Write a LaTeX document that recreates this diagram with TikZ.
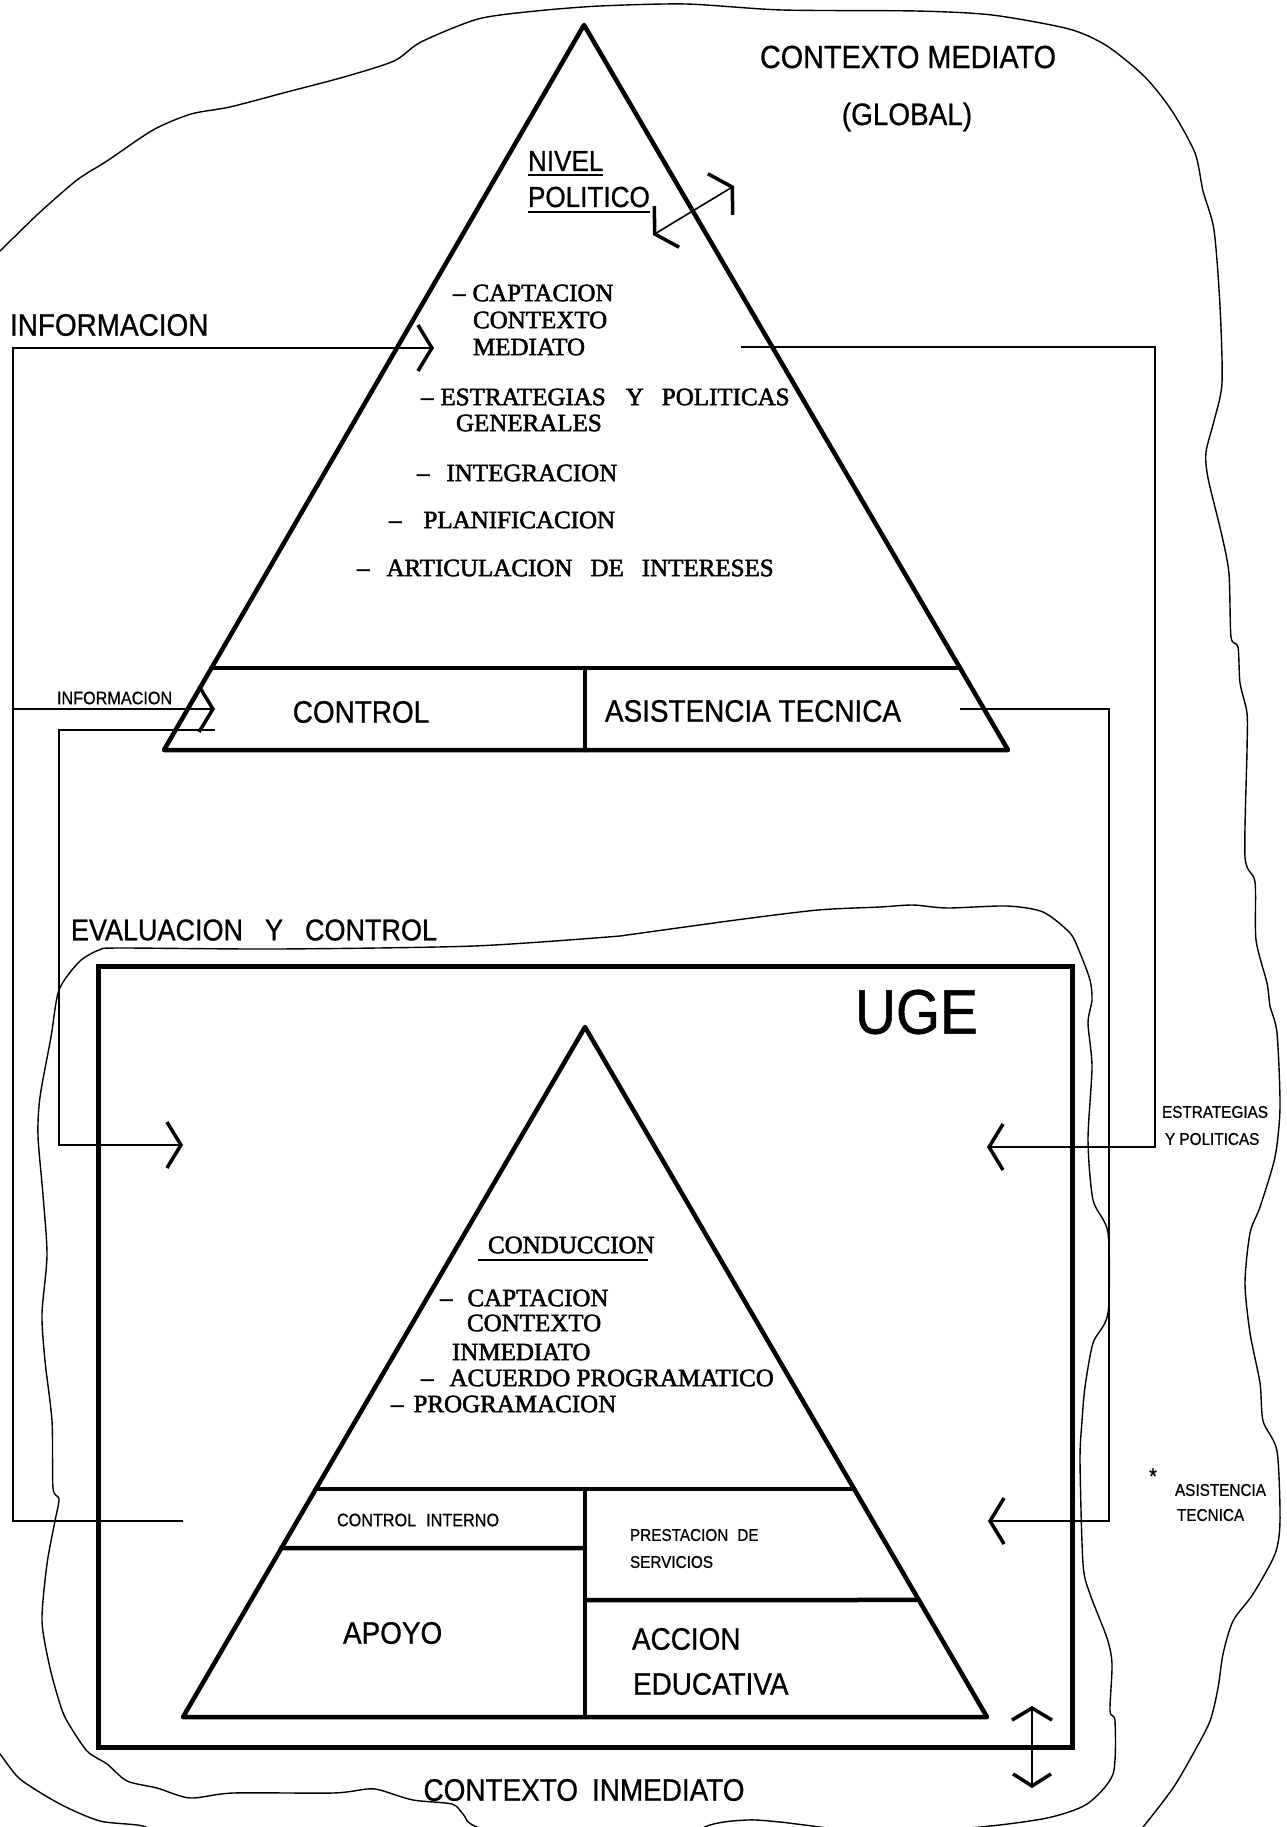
\documentclass[tikz,border=0pt]{standalone}
\usepackage{fontspec}
\usetikzlibrary{arrows.meta,calc}
\newfontfamily\cadfont[FakeStretch=0.9,FakeBold=0.8]{Liberation Sans}
\newfontfamily\serfont[FakeBold=2]{Liberation Serif}
\newcommand\fsz[1]{\fontsize{#1}{#1}\selectfont}
\tikzset{
  heavy/.style={line width=4.5pt, line join=round, line cap=round},
  conn/.style={line width=1.6pt},
  cloudline/.style={line width=1.4pt, line join=round},
  chev/.style={-{Straight Barb[length=14pt, width=46pt, line width=3.5pt]}},
  sans/.style={inner sep=0pt, outer sep=0pt, font=\cadfont\fsz{#1}},
  sans/.default=31,
  serif/.style={inner sep=0pt, outer sep=0pt, font=\serfont\fsz{25}},
  uline/.style={line width=2pt}
}
\begin{document}
\begin{tikzpicture}[x=1pt,y=-1pt]
\useasboundingbox (0,0) rectangle (1286,1827);
\fill[white] (0,0) rectangle (1286,1827);

% ---------- clouds ----------
\begin{scope}
\clip (0,0) rectangle (1286,1827);
\draw[cloudline] plot[smooth, tension=0.45] coordinates {
 (-8,258) (0,251) (38,214) (77,180) (107,161) (153,130) (191,114) (230,107)
 (287,92) (344,77) (394,61) (421,42) (478,19) (536,11) (600,6) (686,4)
 (782,10) (916,11) (992,15) (1069,29) (1107,46) (1145,77) (1172,111)
 (1195,153) (1203,191) (1214,230) (1220,306) (1222,383) (1214,421)
 (1206,452) (1208,478) (1222,536) (1229,574) (1231,637) (1238,647)
 (1240,683) (1247,713) (1247,750) (1245,857) (1255,882) (1256,940)
 (1267,983) (1270,1006) (1277,1033) (1280,1107) (1275,1157) (1260,1207)
 (1250,1233) (1245,1283) (1250,1333) (1260,1383) (1263,1421) (1277,1451)
 (1280,1521) (1275,1554) (1253,1594) (1233,1621) (1223,1654) (1218,1688)
 (1210,1721) (1193,1754) (1173,1788) (1143,1827) (1125,1845)};
\draw[cloudline] plot[smooth, tension=0.45] coordinates {
 (-10,1745) (0,1754) (20,1779) (60,1804) (100,1821) (143,1826) (170,1840)};
\draw[cloudline] plot[smooth, tension=0.45] coordinates {
 (620,936) (736,920) (818,910) (880,907) (913,905) (947,908) (1007,906)
 (1043,912) (1070,933) (1080,953) (1090,980) (1092,1000) (1088,1023)
 (1092,1067) (1088,1140) (1093,1200) (1108,1233) (1108,1313) (1093,1343)
 (1085,1387) (1082,1421) (1080,1461) (1083,1564) (1090,1594) (1107,1638)
 (1112,1664) (1110,1711) (1115,1721) (1113,1774) (1087,1804) (1047,1818)
 (980,1827) (880,1833) (780,1822) (747,1820) (710,1825) (650,1850)
 (560,1850) (477,1827) (463,1814) (452,1804) (413,1800) (380,1790)
 (367,1789) (333,1793) (233,1793) (190,1798) (157,1788) (127,1781)
 (107,1764) (87,1751) (67,1721) (60,1704) (50,1668) (42,1621) (47,1564)
 (55,1521) (59,1499) (53,1488) (52,1421) (45,1361) (42,1314) (47,1255)
 (43,1195) (38,1136) (40,1097) (51,1037) (59,990) (79,962) (99,950)
 (119,948) (277,949) (474,946) (620,936)};
\end{scope}

% ---------- upper pyramid ----------
\coordinate (tA) at (584,25);
\coordinate (tL) at (164,750);
\coordinate (tR) at (1008,750);
\draw[heavy] (tA) -- (tL) -- (tR) -- cycle;
\draw[heavy] ($(tA)!0.8869!(tL)$) -- ($(tA)!0.8869!(tR)$);
\draw[heavy] (585,668) -- (585,750);

% ---------- UGE box and lower pyramid ----------
\draw[line width=5pt] (98,966) rectangle (1072,1747);
\coordinate (bA) at (585,1027);
\coordinate (bL) at (183,1717);
\coordinate (bR) at (987,1717);
\draw[heavy] (bA) -- (bL) -- (bR) -- cycle;
\draw[heavy] ($(bA)!0.6696!(bL)$) -- ($(bA)!0.6696!(bR)$);
\draw[heavy] ($(bA)!0.7551!(bL)$) -- (585,1548);
\draw[heavy] (585,1600) -- ($(bA)!0.8304!(bR)$);
\draw[heavy] (585,1489) -- (585,1717);

% ---------- texts (sans) ----------
\node[sans=32] (ctxmed) at (908,57) {CONTEXTO MEDIATO};
\node[sans=31] (global) at (907,117) {(GLOBAL)};
\node[sans=29, anchor=west] (nivel) at (528,161) {NIVEL};
\node[sans=29, anchor=west] (politico) at (528,197) {POLITICO};
\draw[uline] ([yshift=-4pt]nivel.south west) -- ([yshift=-4pt]nivel.south east);
\draw[uline] ([yshift=-5pt]politico.south west) -- ([yshift=-5pt]politico.south east);
\node[sans=31, anchor=west] (info1) at (10,325) {INFORMACION};
\node[sans=18, anchor=west] (info2) at (57,698) {INFORMACION};
\node[sans=31] (control) at (361,712) {CONTROL};
\node[sans=31] (asist) at (753,711) {ASISTENCIA TECNICA};
\node[sans=30, anchor=west] (evalc) at (71,930) {EVALUACION\hspace{22pt}Y\hspace{22pt}CONTROL};
\node[sans=63, anchor=west] (uge) at (855,1012) {UGE};
\node[sans=17, anchor=west] (estr1) at (1162,1112) {ESTRATEGIAS};
\node[sans=17, anchor=west] (estr2) at (1165,1139) {Y POLITICAS};
\node[sans=22] (star) at (1153,1476) {*};
\node[sans=17, anchor=west] (asis1) at (1175,1490) {ASISTENCIA};
\node[sans=17, anchor=west] (asis2) at (1177,1515) {TECNICA};
\node[sans=18, anchor=west] (ctrlint) at (337,1520) {CONTROL\hspace{10pt}INTERNO};
\node[sans=17, anchor=west] (prest1) at (630,1535) {PRESTACION\hspace{9pt}DE};
\node[sans=17, anchor=west] (prest2) at (630,1562) {SERVICIOS};
\node[sans=31, anchor=west] (apoyo) at (343,1633) {APOYO};
\node[sans=31, anchor=west] (accion1) at (632,1639) {ACCION};
\node[sans=31, anchor=west] (accion2) at (633,1684) {EDUCATIVA};
\node[sans=31] (ctxinm) at (584,1790) {CONTEXTO\hspace{14pt}INMEDIATO};

% ---------- texts (serif) ----------
\node[serif, anchor=west] (s1) at (453,293) {–\hspace{7pt}CAPTACION};
\node[serif, anchor=west] (s2) at (473,320) {CONTEXTO};
\node[serif, anchor=west] (s3) at (473,347) {MEDIATO};
\node[serif, anchor=west] (s4) at (421,397) {–\hspace{7pt}ESTRATEGIAS\hspace{20pt}Y\hspace{18pt}POLITICAS};
\node[serif, anchor=west] (s5) at (456,423) {GENERALES};
\node[serif, anchor=west] (s6) at (417,473) {–\hspace{17pt}INTEGRACION};
\node[serif, anchor=west] (s7) at (389,520) {–\hspace{22pt}PLANIFICACION};
\node[serif, anchor=west] (s8) at (357,568) {–\hspace{17pt}ARTICULACION\hspace{18pt}DE\hspace{18pt}INTERESES};

\node[serif, anchor=west] (b0) at (488,1245) {CONDUCCION};
\draw[uline] (478,1260) -- (648,1260);
\node[serif, anchor=west] (b1) at (440,1298) {–\hspace{15pt}CAPTACION};
\node[serif, anchor=west] (b2) at (467,1323) {CONTEXTO};
\node[serif, anchor=west] (b3) at (452,1352) {INMEDIATO};
\node[serif, anchor=west] (b4) at (421,1378) {–\hspace{16pt}ACUERDO PROGRAMATICO};
\node[serif, anchor=west] (b5) at (391,1404) {–\hspace{10pt}PROGRAMACION};

% ---------- connectors ----------
\coordinate (infoStart) at (183,1521);
\coordinate (infoC1) at (13,1521);
\coordinate (infoC2) at (13,348);
\coordinate (infoTip) at (434,348);
\draw[conn,chev] (infoStart) -- (infoC1) -- (infoC2) -- (infoTip);

\coordinate (info2Start) at (13,709);
\coordinate (info2Tip) at (215,709);
\draw[conn,chev] (info2Start) -- (info2Tip);

\coordinate (evStart) at (215,730);
\coordinate (evC1) at (59,730);
\coordinate (evC2) at (59,1145);
\coordinate (evTip) at (183,1145);
\draw[conn,chev] (evStart) -- (evC1) -- (evC2) -- (evTip);

\coordinate (capStart) at (741,347);
\coordinate (capC1) at (1155,347);
\coordinate (capC2) at (1155,1147);
\coordinate (estTip) at (987,1147);
\draw[conn,chev] (capStart) -- (capC1) -- (capC2) -- (estTip);

\coordinate (asStart) at (960,709);
\coordinate (asC1) at (1109,709);
\coordinate (asC2) at (1109,1521);
\coordinate (asTip) at (988,1521);
\draw[conn,chev] (asStart) -- (asC1) -- (asC2) -- (asTip);

% nivel politico double arrow
\coordinate (npA) at (653,235);
\coordinate (npB) at (734,186);
\draw[conn, {Straight Barb[length=14pt, width=48pt, line width=3.5pt]}-{Straight Barb[length=14pt, width=48pt, line width=3.5pt]}] (npA) -- (npB);

% contexto inmediato double arrow
\coordinate (ciA) at (1032,1706);
\coordinate (ciB) at (1032,1788);
\draw[conn, {Straight Barb[length=12pt, width=40pt, line width=3.5pt]}-{Straight Barb[length=12pt, width=38pt, line width=3.5pt]}] (ciA) -- (ciB);
\end{tikzpicture}
\end{document}
